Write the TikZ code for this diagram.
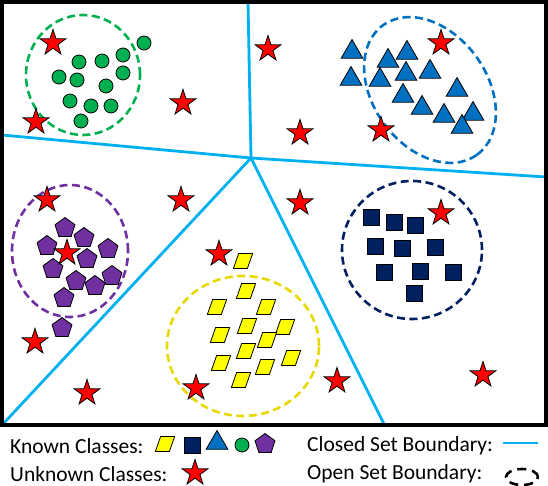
\documentclass[tikz,border=0pt]{standalone}
\usepackage{fontspec}
\setmainfont{Carlito}
\usepackage{xcolor}
\usetikzlibrary{shapes,positioning}

\definecolor{bndblue}{HTML}{00B0F0}
\definecolor{clsgreen}{HTML}{00B050}
\definecolor{clsblue}{HTML}{0070C0}
\definecolor{clsnavy}{HTML}{002060}
\definecolor{clspurple}{HTML}{7030A0}
\definecolor{clsyellow}{HTML}{FFFF00}
\definecolor{ringyellow}{HTML}{E8D800}

\begin{document}
\begin{tikzpicture}[x=1pt, y=-1pt,
        bnd/.style={draw=bndblue, line width=2.8pt},
        ring/.style={dashed, line width=2.6pt, dash pattern=on 8pt off 4.5pt},
        unk/.style={star, star points=5, star point ratio=2.6, draw=black, fill=red, line width=0.8pt, minimum size=27pt, inner sep=0pt},
        circ/.style={circle, draw=black, fill=clsgreen, line width=0.8pt, minimum size=14pt, inner sep=0pt},
        tri/.style={regular polygon, regular polygon sides=3, draw=black, fill=clsblue, line width=0.8pt, minimum size=25pt, inner sep=0pt},
        sq/.style={rectangle, draw=black, fill=clsnavy, line width=0.8pt, minimum size=16pt, inner sep=0pt},
        pent/.style={regular polygon, regular polygon sides=5, draw=black, fill=clspurple, line width=0.8pt, minimum size=21pt, inner sep=0pt},
        para/.style={rectangle, xslant=0.35, transform shape, draw=black, fill=clsyellow, line width=0.8pt, minimum width=14pt, minimum height=15pt, inner sep=0pt},
        legend/.style={anchor=west, inner sep=0pt, font=\fontsize{21.5}{24}\selectfont}
    ]
    \useasboundingbox (0,0) rectangle (548,486);

    % Closed set boundaries
    \coordinate (ctr) at (251,158);
    \coordinate (top) at (248,2);
    \coordinate (lft) at (2,135);
    \coordinate (rgt) at (546,177);
    \coordinate (bl) at (3,424);
    \coordinate (br) at (384,424);
    \draw[bnd] (top) -- (ctr);
    \draw[bnd] (lft) -- (ctr) -- (rgt);
    \draw[bnd] (bl) -- (ctr) -- (br);

    % Frame
    \draw[line width=4pt] (2,2) rectangle (546,425);

    % Open set boundaries
    \draw[ring, clsgreen] (83,75) ellipse [x radius=57pt, y radius=60pt];
    \draw[ring, clsblue, rotate around={-54:(430,90)}] (430,90) ellipse [x radius=80pt, y radius=57pt];
    \draw[ring, clspurple] (70,251) ellipse [x radius=58pt, y radius=66pt];
    \draw[ring, clsnavy] (412,250) ellipse [x radius=70pt, y radius=69pt];
    \draw[ring, ringyellow] (243,346) ellipse [x radius=76pt, y radius=70pt];

    % Known classes
    \foreach \x/\y [count=\i] in {144/43, 79/62, 102/61, 123/55, 59/77, 77/80, 123/73, 106/86, 70/101, 91/106, 111/106, 81/121}
        \node[circ] (g\i) at (\x,\y) {};
    \foreach \x/\y [count=\i] in {352/52, 351/79, 388/61, 407/53, 380/80, 406/74, 430/72, 403/96, 457/90, 422/108, 444/116, 473/114, 462/127}
        \node[tri] (t\i) at (\x,\y) {};
    \foreach \x/\y [count=\i] in {65/228, 84/238, 47/246, 108/249, 87/259, 53/269, 76/281, 95/286, 112/276, 64/298, 62/328}
        \node[pent] (p\i) at (\x,\y) {};
    \foreach \x/\y [count=\i] in {371/217, 394/222, 415/225, 375/246, 402/248, 435/247, 384/272, 420/271, 453/272, 414/293}
        \node[sq] (q\i) at (\x,\y) {};
    \foreach \x/\y [count=\i] in {243/261, 246/291, 217/307, 266/307, 247/326, 285/327, 220/335, 267/340, 246/351, 291/358, 221/363, 265/367, 241/380}
        \node[para] (y\i) at (\x,\y) {};

    % Unknown classes
    \foreach \x/\y [count=\i] in {53/43, 36/122, 183/103, 268/49, 441/43, 300/133, 381/130, 47/200, 181/200, 300/203, 441/213, 67/253, 219/254, 35/342, 87/393, 196/388, 337/381, 483/375}
        \node[unk] (u\i) at (\x,\y) {};

    % Legend
    \node[legend] (known) at (10,446) {Known Classes:};
    \node[para] (lpara) at (165,444) {};
    \node[sq] (lsq) at (192,445) {};
    \node[tri] (ltri) at (217,443) {};
    \node[circ] (lcirc) at (242,445) {};
    \node[pent] (lpent) at (265,444) {};
    \node[legend] (unknown) at (10,474) {Unknown Classes:};
    \node[unk] (lstar) at (195,473) {};
    \node[legend] (closed) at (307,446) {Closed Set Boundary:};
    \coordinate (cl1) at (503,443);
    \coordinate (cl2) at (538,443);
    \draw[bnd] (cl1) -- (cl2);
    \node[legend] (open) at (307,474) {Open Set Boundary:};
    \draw[ring, black, dash pattern=on 9pt off 6pt] (522,477) ellipse [x radius=16pt, y radius=8pt];

\end{tikzpicture}
\end{document}
